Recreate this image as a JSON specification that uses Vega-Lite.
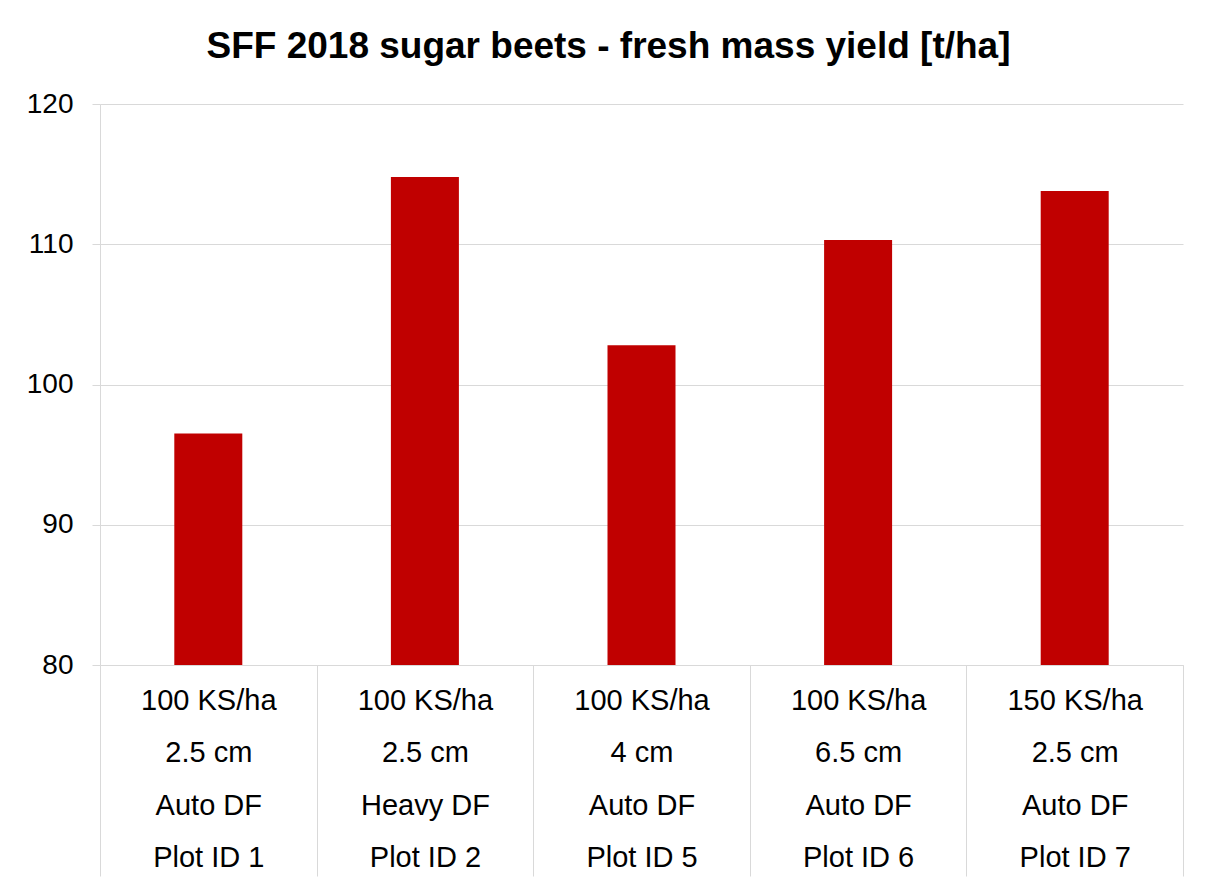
{
  "$schema": "https://vega.github.io/schema/vega-lite/v6.json",
  "width": 1083,
  "height": 561,
  "autosize": "none",
  "padding": {"left": 100, "top": 104, "right": 22, "bottom": 219},
  "background": "white",
  "title": {
    "text": "SFF 2018 sugar beets - fresh mass yield [t/ha]",
    "font": "Liberation Sans",
    "fontSize": 37,
    "fontWeight": "bold",
    "color": "#000000",
    "anchor": "middle",
    "baseline": "alphabetic",
    "dx": -33,
    "offset": -5
  },
  "config": {
    "view": {"stroke": null},
    "font": "Liberation Sans"
  },
  "data": {
    "values": [
      {"plot": "100 KS/ha|2.5 cm|Auto DF|Plot ID 1", "yield": 96.5},
      {"plot": "100 KS/ha|2.5 cm|Heavy DF|Plot ID 2", "yield": 114.8},
      {"plot": "100 KS/ha|4 cm|Auto DF|Plot ID 5", "yield": 102.8},
      {"plot": "100 KS/ha|6.5 cm|Auto DF|Plot ID 6", "yield": 110.3},
      {"plot": "150 KS/ha|2.5 cm|Auto DF|Plot ID 7", "yield": 113.8}
    ]
  },
  "mark": {"type": "bar", "color": "#C00000", "size": 68},
  "encoding": {
    "x": {
      "field": "plot",
      "type": "nominal",
      "sort": null,
      "scale": {"paddingInner": 0, "paddingOuter": 0},
      "axis": {
        "title": null,
        "labelAngle": 0,
        "labelExpr": "isValid(datum.value) ? split(datum.value, '|') : ''",
        "labelFont": "Liberation Sans",
        "labelFontSize": 29,
        "labelColor": "#000000",
        "labelLineHeight": 52.5,
        "labelBaseline": "top",
        "labelPadding": -190,
        "tickBand": "extent",
        "tickSize": 211,
        "tickColor": "#d9d9d9",
        "domainColor": "#d9d9d9",
        "grid": false
      }
    },
    "y": {
      "field": "yield",
      "type": "quantitative",
      "scale": {"domain": [80, 120], "zero": false, "nice": false},
      "axis": {
        "title": null,
        "values": [80, 90, 100, 110, 120],
        "labelFont": "Liberation Sans",
        "labelFontSize": 28,
        "labelColor": "#000000",
        "labelPadding": 19,
        "tickSize": 8,
        "tickColor": "#d9d9d9",
        "domainColor": "#d9d9d9",
        "gridColor": "#d9d9d9",
        "grid": true
      }
    },
    "y2": {"datum": 80}
  }
}
